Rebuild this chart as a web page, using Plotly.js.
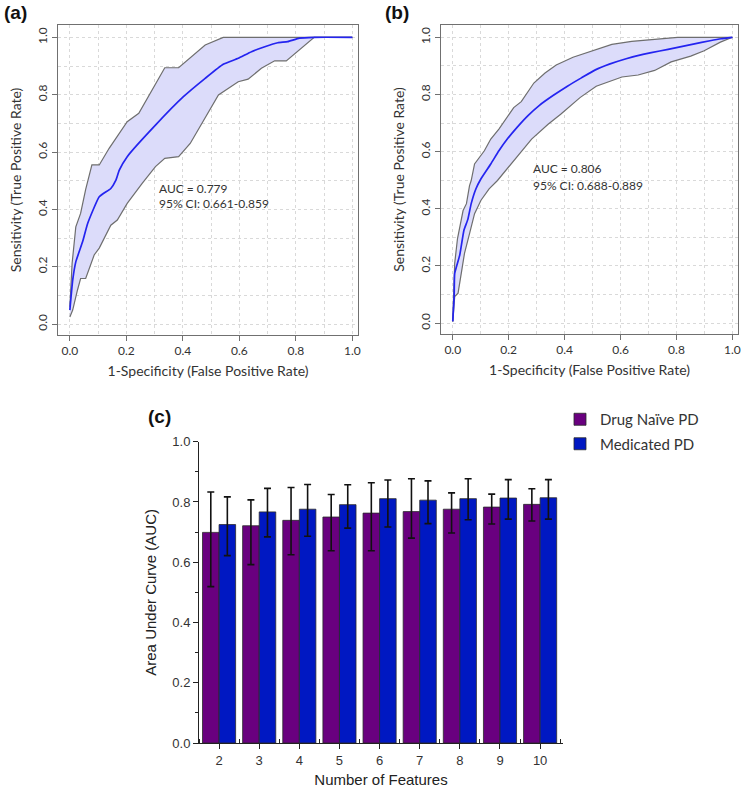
<!DOCTYPE html>
<html>
<head>
<meta charset="utf-8">
<script src="https://cdn.plot.ly/plotly-3.0.1.min.js"></script>
<style>html,body{margin:0;padding:0;background:#fff;}#chart{width:750px;height:788px;}</style>
</head>
<body>
<div id="chart"></div>
<script>
// ---------- Panel (a): ROC, drug-naive ----------
const rocA_meanX = [0, 0.01, 0.021, 0.045, 0.063, 0.104, 0.145, 0.163, 0.175, 0.203, 0.303, 0.402, 0.479, 0.543, 0.596, 0.643, 0.69, 0.736, 0.771, 0.813, 0.865, 1.0];
const rocA_meanY = [0.049, 0.153, 0.217, 0.287, 0.351, 0.444, 0.473, 0.502, 0.537, 0.584, 0.694, 0.793, 0.857, 0.906, 0.927, 0.950, 0.967, 0.981, 0.985, 0.997, 1.0, 1.0];
const rocA_upX = [0, 0.008, 0.021, 0.038, 0.056, 0.078, 0.104, 0.139, 0.203, 0.244, 0.336, 0.385, 0.479, 0.543, 1.0];
const rocA_upY = [0.06, 0.212, 0.339, 0.386, 0.47, 0.555, 0.555, 0.613, 0.706, 0.735, 0.894, 0.894, 0.973, 1.0, 1.0];
const rocA_loX = [0, 0.01, 0.027, 0.038, 0.056, 0.086, 0.104, 0.145, 0.168, 0.203, 0.256, 0.303, 0.336, 0.385, 0.426, 0.467, 0.526, 0.596, 0.631, 0.678, 0.725, 0.766, 0.813, 0.865, 1.0];
const rocA_loY = [0.025, 0.049, 0.119, 0.159, 0.159, 0.241, 0.265, 0.345, 0.363, 0.421, 0.491, 0.549, 0.578, 0.584, 0.630, 0.700, 0.799, 0.845, 0.854, 0.892, 0.918, 0.918, 0.956, 1.0, 1.0];
const rocA_text = ["AUC = 0.779", "95% CI: 0.661-0.859"];

// ---------- Panel (b): ROC, medicated ----------
const rocB_meanX = [0, 0.005, 0.007, 0.025, 0.04, 0.054, 0.066, 0.083, 0.101, 0.136, 0.165, 0.195, 0.23, 0.27, 0.31, 0.36, 0.41, 0.46, 0.51, 0.56, 0.62, 0.68, 0.74, 0.8, 0.86, 0.92, 0.96, 1.0];
const rocB_meanY = [0.006, 0.093, 0.174, 0.238, 0.325, 0.363, 0.418, 0.47, 0.505, 0.557, 0.603, 0.644, 0.685, 0.727, 0.762, 0.797, 0.829, 0.858, 0.886, 0.906, 0.925, 0.94, 0.952, 0.964, 0.976, 0.988, 0.995, 1.0];
const rocB_upX = [0, 0.007, 0.017, 0.031, 0.037, 0.049, 0.060, 0.066, 0.078, 0.113, 0.136, 0.165, 0.218, 0.245, 0.29, 0.33, 0.37, 0.43, 0.5, 0.569, 0.64, 0.722, 0.781, 0.804, 1.0];
const rocB_upY = [0.006, 0.209, 0.296, 0.363, 0.394, 0.418, 0.481, 0.499, 0.557, 0.603, 0.644, 0.679, 0.754, 0.775, 0.84, 0.875, 0.903, 0.93, 0.952, 0.975, 0.986, 0.992, 0.996, 1.0, 1.0];
const rocB_loX = [0, 0.007, 0.019, 0.031, 0.042, 0.06, 0.078, 0.101, 0.13, 0.16, 0.218, 0.282, 0.341, 0.386, 0.455, 0.513, 0.605, 0.663, 0.722, 0.781, 0.851, 0.899, 0.957, 1.0];
const rocB_loY = [0.006, 0.093, 0.105, 0.174, 0.244, 0.313, 0.383, 0.43, 0.47, 0.499, 0.568, 0.644, 0.696, 0.731, 0.789, 0.829, 0.861, 0.868, 0.884, 0.914, 0.934, 0.953, 0.983, 1.0];
const rocB_text = ["AUC = 0.806", "95% CI: 0.688-0.889"];

// ---------- Panel (c): AUC vs number of features ----------
const features = [2, 3, 4, 5, 6, 7, 8, 9, 10];
const naiveAUC = [0.699, 0.721, 0.739, 0.750, 0.763, 0.768, 0.776, 0.783, 0.792];
const naiveHi  = [0.833, 0.807, 0.848, 0.825, 0.864, 0.877, 0.830, 0.826, 0.844];
const naiveLo  = [0.519, 0.592, 0.625, 0.638, 0.638, 0.680, 0.697, 0.727, 0.737];
const medAUC   = [0.725, 0.767, 0.776, 0.791, 0.811, 0.806, 0.811, 0.813, 0.814];
const medHi    = [0.817, 0.845, 0.858, 0.857, 0.873, 0.870, 0.877, 0.874, 0.874];
const medLo    = [0.622, 0.684, 0.686, 0.713, 0.717, 0.728, 0.741, 0.743, 0.743];
const seriesNames = ["Drug Naïve PD", "Medicated PD"];

const W = 750, H = 788;
const px = v => v / W;
const py = v => 1 - v / H;

const BAND_FILL = '#dcdcfa';
const BAND_LINE = '#6e6e6e';
const MEAN_LINE = '#2424f0';
const ROC_FONT = 'Lato, "Open Sans", sans-serif';
const ORIGIN_FONT = '"Liberation Sans", Arial, sans-serif';

function rocTraces(xa, ya, mx, my, ux, uy, lx, ly) {
  const polyX = ux.concat(lx.slice().reverse());
  const polyY = uy.concat(ly.slice().reverse());
  return [
    {x: polyX, y: polyY, xaxis: xa, yaxis: ya, type: 'scatter', mode: 'lines', fill: 'toself',
     fillcolor: BAND_FILL, line: {width: 0}, hoverinfo: 'skip', showlegend: false},
    {x: ux, y: uy, xaxis: xa, yaxis: ya, type: 'scatter', mode: 'lines',
     line: {color: BAND_LINE, width: 1.2}, showlegend: false},
    {x: lx, y: ly, xaxis: xa, yaxis: ya, type: 'scatter', mode: 'lines',
     line: {color: BAND_LINE, width: 1.2}, showlegend: false},
    {x: mx, y: my, xaxis: xa, yaxis: ya, type: 'scatter', mode: 'lines',
     line: {color: MEAN_LINE, width: 1.7, shape: 'spline', smoothing: 0.4}, showlegend: false}
  ];
}

const diff = (a, b) => a.map((v, i) => +(v - b[i]).toFixed(3));

const data = [].concat(
  rocTraces('x', 'y', rocA_meanX, rocA_meanY, rocA_upX, rocA_upY, rocA_loX, rocA_loY),
  rocTraces('x2', 'y2', rocB_meanX, rocB_meanY, rocB_upX, rocB_upY, rocB_loX, rocB_loY),
  [
    {type: 'bar', x: features, y: naiveAUC, name: seriesNames[0], xaxis: 'x3', yaxis: 'y3',
     legendgroup: 'g1',
     marker: {color: '#69007f', line: {color: '#2a2a2a', width: 0.8}},
     error_y: {type: 'data', symmetric: false, array: diff(naiveHi, naiveAUC), arrayminus: diff(naiveAUC, naiveLo),
               color: '#111', thickness: 1.6, width: 3.5}},
    {type: 'bar', x: features, y: medAUC, name: seriesNames[1], xaxis: 'x3', yaxis: 'y3',
     legendgroup: 'g2',
     marker: {color: '#0018c2', line: {color: '#2a2a2a', width: 0.8}},
     error_y: {type: 'data', symmetric: false, array: diff(medHi, medAUC), arrayminus: diff(medAUC, medLo),
               color: '#111', thickness: 1.6, width: 3.5}}
  ]
);

function rocX(domain, anchor) {
  return {
    domain: domain, anchor: anchor, range: [-0.042, 1.02], autorange: false,
    showline: true, mirror: true, linecolor: '#707070', linewidth: 1,
    ticks: 'outside', ticklen: 5, tickcolor: '#707070', tickvals: [0, 0.2, 0.4, 0.6, 0.8, 1.0],
    tickformat: '.1f', tickfont: {family: ROC_FONT, size: 12, color: '#333'},
    showgrid: true, gridcolor: '#d9d9d9', griddash: 'dot', gridwidth: 1,
    minor: {dtick: 0.1, tick0: 0, showgrid: true, gridcolor: '#d9d9d9', griddash: 'dot', ticks: ''},
    zeroline: false,
    title: {text: '1-Specificity (False Positive Rate)', font: {family: ROC_FONT, size: 14, color: '#333'}, standoff: 8}
  };
}
function rocY(domain, anchor) {
  return {
    domain: domain, anchor: anchor, range: [-0.038, 1.043], autorange: false,
    showline: true, mirror: true, linecolor: '#707070', linewidth: 1,
    ticks: 'outside', ticklen: 5, tickcolor: '#707070', tickvals: [0, 0.2, 0.4, 0.6, 0.8, 1.0],
    tickformat: '.1f', tickangle: -90, tickfont: {family: ROC_FONT, size: 12, color: '#333'},
    showgrid: true, gridcolor: '#d9d9d9', griddash: 'dot', gridwidth: 1,
    minor: {dtick: 0.1, tick0: 0, showgrid: true, gridcolor: '#d9d9d9', griddash: 'dot', ticks: ''},
    zeroline: false,
    title: {text: 'Sensitivity (True Positive Rate)', font: {family: ROC_FONT, size: 14, color: '#333'}, standoff: 10}
  };
}

function txt(xref, yref, x, y, t) {
  return {xref: xref, yref: yref, x: x, y: y, text: t, showarrow: false, xanchor: 'left', yanchor: 'middle',
          font: {family: ROC_FONT, size: 12, color: '#333'}};
}
function panelLabel(x, y, t) {
  return {xref: 'paper', yref: 'paper', x: px(x), y: py(y), text: '<b>' + t + '</b>', showarrow: false,
          xanchor: 'center', yanchor: 'middle', font: {family: ORIGIN_FONT, size: 19, color: '#111'}};
}

const layout = {
  width: W, height: H,
  margin: {l: 0, r: 0, t: 0, b: 0},
  paper_bgcolor: '#fff', plot_bgcolor: '#fff',
  barmode: 'group', bargap: 0.175, bargroupgap: 0,
  showlegend: true,
  legend: {x: px(560), y: py(403), xanchor: 'left', yanchor: 'top', bgcolor: 'rgba(0,0,0,0)',
           font: {family: ROC_FONT, size: 15, color: '#333'}, tracegroupgap: 2, itemwidth: 30},
  xaxis: rocX([px(58), px(358)], 'y'),
  yaxis: rocY([py(335), py(25)], 'x'),
  xaxis2: rocX([px(441), px(738)], 'y2'),
  yaxis2: rocY([py(334), py(25)], 'x2'),
  xaxis3: {
    domain: [px(199), px(563)], anchor: 'y3', range: [1.5, 10.57], autorange: false,
    tickvals: features, ticks: 'outside', ticklen: 5, tickcolor: '#222',
    minor: {tick0: 1.5, dtick: 1, ticks: 'inside', ticklen: 4, tickcolor: '#222'},
    showline: true, linecolor: '#222', linewidth: 1, showgrid: false, zeroline: false,
    tickfont: {family: ORIGIN_FONT, size: 13, color: '#333'},
    title: {text: 'Number of Features', font: {family: ORIGIN_FONT, size: 15, color: '#222'}, standoff: 12}
  },
  yaxis3: {
    domain: [py(743), py(441.7)], anchor: 'x3', range: [0, 1.0], autorange: false,
    dtick: 0.2, tick0: 0, tickformat: '.1f', ticks: 'outside', ticklen: 5, tickcolor: '#222',
    minor: {dtick: 0.1, tick0: 0, ticks: 'outside', ticklen: 3, tickcolor: '#222'},
    showline: true, linecolor: '#222', linewidth: 1, showgrid: false, zeroline: false,
    tickfont: {family: ORIGIN_FONT, size: 13, color: '#333'},
    title: {text: 'Area Under Curve (AUC)', font: {family: ORIGIN_FONT, size: 15, color: '#222'}, standoff: 12}
  },
  annotations: [
    txt('x', 'y', 0.3075, 0.474, rocA_text[0]),
    txt('x', 'y', 0.3075, 0.419, rocA_text[1]),
    txt('x2', 'y2', 0.281, 0.541, rocB_text[0]),
    txt('x2', 'y2', 0.281, 0.481, rocB_text[1]),
    panelLabel(15, 13, '(a)'),
    panelLabel(397, 13, '(b)'),
    panelLabel(159, 417, '(c)')
  ]
};

Plotly.newPlot('chart', data, layout, {displayModeBar: false, staticPlot: true});
</script>
</body>
</html>
